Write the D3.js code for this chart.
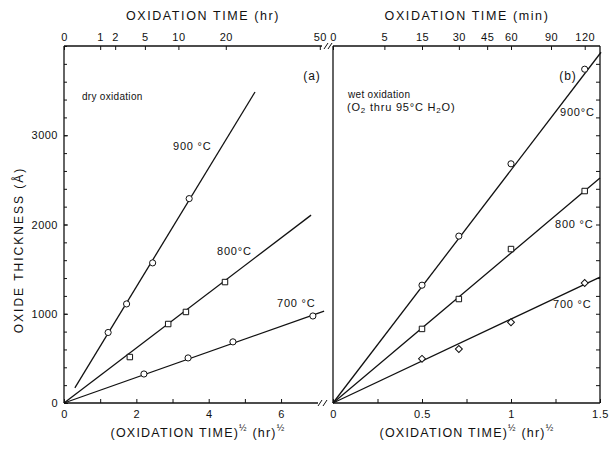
<!DOCTYPE html>
<html>
<head>
<meta charset="utf-8">
<script src="https://cdn.jsdelivr.net/npm/d3@7.9.0/dist/d3.min.js"></script>
<style>
  body { margin: 0; background: #fff; }
  svg text { font-family: "Liberation Sans", Arial, sans-serif; fill: #111; }
</style>
</head>
<body>
<svg id="chart" width="610" height="449"></svg>
<script>
// dry oxidation, x = sqrt(time in hr)
const dry900X = [1.22, 1.73, 2.45, 3.46];
const dry900Y = [790, 1110, 1570, 2290];
const dry800X = [1.82, 2.88, 3.37, 4.45];
const dry800Y = [515, 885, 1020, 1355];
const dry700X = [2.21, 3.43, 4.67, 6.88];
const dry700Y = [325, 505, 685, 975];
// fitted lines [start, end]
const dry900Line = [[0.30, 170], [5.28, 3485]];
const dry800Line = [[0, 0], [6.83, 2105]];
const dry700Line = [[0, 0], [7.19, 1030]];

// wet oxidation (15, 30, 60, 120 min)
const wetX = [0.5, 0.707, 1.0, 1.414];
const wet900Y = [1320, 1870, 2680, 3740];
const wet800Y = [830, 1165, 1725, 2375];
const wet700Y = [495, 605, 905, 1345];
const wet900Line = [[0, 0], [1.506, 3930]];
const wet800Line = [[0, 0], [1.5, 2520]];
const wet700Line = [[0, 0], [1.5, 1410]];

const hrTicks = [0, 1, 2, 5, 10, 20, 50];
const minTicks = [0, 5, 15, 30, 45, 60, 90, 120];
const yLabels = [0, 1000, 2000, 3000];
const xLeftLabels = [0, 2, 4, 6];
const xLeftMinor = [1, 3, 5];
const xRightLabels = [0, 0.5, 1, 1.5];
const xRightMinor = [0.25, 0.75, 1.25];

const svg = d3.select('#chart');
const y = d3.scaleLinear().domain([0, 4000]).range([403, 46]);
const xL = d3.scaleLinear().domain([0, 7.4]).range([64, 331.7]);
const xR = d3.scaleLinear().domain([0, 1.5]).range([333, 600]);
const yBottom = y(0), yTop = y(4000);

const ink = '#111';
const frame = svg.append('g').attr('stroke', ink).attr('stroke-width', 1.3).attr('fill', 'none');
// left panel frame
frame.append('line').attr('x1', xL(0)).attr('x2', xL(0)).attr('y1', yTop).attr('y2', yBottom);
frame.append('line').attr('x1', xL(0)).attr('x2', 318).attr('y1', yBottom).attr('y2', yBottom);
frame.append('line').attr('x1', xL(0)).attr('x2', 322).attr('y1', yTop).attr('y2', yTop);
// right panel frame
frame.append('line').attr('x1', xR(0)).attr('x2', xR(0)).attr('y1', yTop).attr('y2', yBottom);
frame.append('line').attr('x1', xR(0)).attr('x2', xR(1.5)).attr('y1', yBottom).attr('y2', yBottom);
frame.append('line').attr('x1', xR(0)).attr('x2', xR(1.5)).attr('y1', yTop).attr('y2', yTop);
frame.append('line').attr('x1', xR(1.5)).attr('x2', xR(1.5)).attr('y1', yTop).attr('y2', yBottom);
// axis break marks
[[320, yBottom], [325, yBottom]].forEach(([bx, by]) => {
  frame.append('line').attr('x1', bx - 2).attr('y1', by + 3).attr('x2', bx + 2).attr('y2', by - 3).attr('stroke-width', 1);
});
[[326, yTop], [330, yTop]].forEach(([bx, by]) => {
  frame.append('line').attr('x1', bx - 2).attr('y1', by + 3).attr('x2', bx + 2).attr('y2', by - 3).attr('stroke-width', 1);
});

function styleAxis(g) {
  g.select('.domain').remove();
  g.selectAll('line').attr('stroke', ink).attr('stroke-width', 1);
  g.selectAll('text').attr('font-size', 11).attr('fill', ink)
    .attr('font-family', '"Liberation Sans", Arial, sans-serif').style('letter-spacing', '0.5px');
}

// left y axis
svg.append('g').attr('transform', `translate(${xL(0)},0)`)
  .call(d3.axisLeft(y).tickValues(y.ticks(20)).tickSizeInner(-3).tickSizeOuter(0).tickFormat(''))
  .call(styleAxis);
svg.append('g').attr('transform', `translate(${xL(0)},0)`)
  .call(d3.axisLeft(y).tickValues(yLabels).tickSizeInner(-4).tickSizeOuter(0).tickPadding(6).tickFormat(d3.format('d')))
  .call(styleAxis);
// right panel right-side ticks
svg.append('g').attr('transform', `translate(${xR(1.5)},0)`)
  .call(d3.axisRight(y).tickValues(y.ticks(20).filter(v => v > 0 && v < 4000)).tickSizeInner(-4).tickSizeOuter(0).tickFormat(''))
  .call(styleAxis);

// bottom axes
svg.append('g').attr('transform', `translate(0,${yBottom})`)
  .call(d3.axisBottom(xL).tickValues(xLeftLabels).tickSizeInner(-4).tickSizeOuter(0).tickPadding(7).tickFormat(d3.format('d')))
  .call(styleAxis);
svg.append('g').attr('transform', `translate(0,${yBottom})`)
  .call(d3.axisBottom(xL).tickValues(xLeftMinor).tickSizeInner(-4).tickSizeOuter(0).tickFormat(''))
  .call(styleAxis);
svg.append('g').attr('transform', `translate(0,${yBottom})`)
  .call(d3.axisBottom(xR).tickValues(xRightLabels).tickSizeInner(-4).tickSizeOuter(0).tickPadding(7).tickFormat(d => String(d)))
  .call(styleAxis);
svg.append('g').attr('transform', `translate(0,${yBottom})`)
  .call(d3.axisBottom(xR).tickValues(xRightMinor).tickSizeInner(-4).tickSizeOuter(0).tickFormat(''))
  .call(styleAxis);

// top axes (time scales)
const hrScale = d3.scaleSqrt().domain([0, 54.76]).range([xL(0), xL(7.4)]);
const minScale = d3.scaleSqrt().domain([0, 135]).range([xR(0), xR(1.5)]);
svg.append('g').attr('transform', `translate(0,${yTop})`)
  .call(d3.axisTop(hrScale).tickValues(hrTicks).tickSizeInner(-4).tickSizeOuter(0).tickPadding(5).tickFormat(d3.format('d')))
  .call(styleAxis);
svg.append('g').attr('transform', `translate(0,${yTop})`)
  .call(d3.axisTop(minScale).tickValues(minTicks).tickSizeInner(-4).tickSizeOuter(0).tickPadding(5).tickFormat(d3.format('d')))
  .call(styleAxis);

// fitted lines
const lineL = d3.line().x(d => xL(d[0])).y(d => y(d[1]));
const lineR = d3.line().x(d => xR(d[0])).y(d => y(d[1]));
const lines = svg.append('g').attr('stroke', ink).attr('stroke-width', 1.3).attr('fill', 'none');
[dry900Line, dry800Line, dry700Line].forEach(l => lines.append('path').attr('d', lineL(l)));
[wet900Line, wet800Line, wet700Line].forEach(l => lines.append('path').attr('d', lineR(l)));

// markers
const sym = {
  circle: d3.symbol().type(d3.symbolCircle).size(30),
  square: d3.symbol().type(d3.symbolSquare).size(30),
  diamond: d3.symbol().type(d3.symbolSquare).size(24)
};
function markers(xs, ys, xScale, shape) {
  svg.append('g').selectAll('path').data(xs).join('path')
    .attr('transform', (d, i) => `translate(${xScale(d)},${y(ys[i])})` + (shape === 'diamond' ? ' rotate(45)' : ''))
    .attr('d', sym[shape])
    .attr('fill', '#fff').attr('stroke', ink).attr('stroke-width', 1);
}
markers(dry900X, dry900Y, xL, 'circle');
markers(dry800X, dry800Y, xL, 'square');
markers(dry700X, dry700Y, xL, 'circle');
markers(wetX, wet900Y, xR, 'circle');
markers(wetX, wet800Y, xR, 'square');
markers(wetX, wet700Y, xR, 'diamond');

// texts
function label(x, yy, txt, size, anchor, spacing) {
  return svg.append('text').attr('x', x).attr('y', yy).attr('font-size', size)
    .attr('text-anchor', anchor || 'start').attr('dominant-baseline', 'middle')
    .style('letter-spacing', (spacing || 0) + 'px').text(txt);
}
label(203, 17, 'OXIDATION TIME  (hr)', 12.5, 'middle', 1.6);
label(467, 17, 'OXIDATION TIME  (min)', 12.5, 'middle', 1.6);
label(312, 77, '(a)', 12, 'middle', 1);
label(568, 77, '(b)', 12, 'middle', 1);
label(82, 97, 'dry oxidation', 10, 'start', 0.3);
label(348, 95, 'wet oxidation', 10, 'start', 0.3);
const o2 = label(347, 108, '(O', 11, 'start', 0.8);
o2.append('tspan').attr('font-size', 8).attr('dy', 3).text('2');
o2.append('tspan').attr('dy', -3).text(' thru  95°C  H');
o2.append('tspan').attr('font-size', 8).attr('dy', 3).text('2');
o2.append('tspan').attr('dy', -3).text('O)');

label(173, 147, '900 °C', 11, 'start', 0.8);
label(217, 252, '800°C', 11, 'start', 0.8);
label(277, 304, '700 °C', 11, 'start', 0.8);
label(560, 113, '900°C', 11, 'start', 0.8);
label(555, 225, '800 °C', 11, 'start', 0.8);
label(553, 305, '700 °C', 11, 'start', 0.8);

// y title
svg.append('text').attr('transform', 'translate(20,250) rotate(-90)')
  .attr('text-anchor', 'middle').attr('dominant-baseline', 'middle')
  .attr('font-size', 12).style('letter-spacing', '2px').text('OXIDE  THICKNESS (Å)');

// bottom titles
function bottomTitle(cx) {
  const t = svg.append('text').attr('x', cx).attr('y', 434).attr('text-anchor', 'middle')
    .attr('dominant-baseline', 'middle').attr('font-size', 12.5).style('letter-spacing', '1.2px');
  t.append('tspan').text('(OXIDATION TIME)');
  t.append('tspan').attr('font-size', 9).attr('dy', -5).text('½');
  t.append('tspan').attr('dy', 5).text(' (hr)');
  t.append('tspan').attr('font-size', 9).attr('dy', -5).text('½');
}
bottomTitle(198);
bottomTitle(467);
</script>
</body>
</html>
